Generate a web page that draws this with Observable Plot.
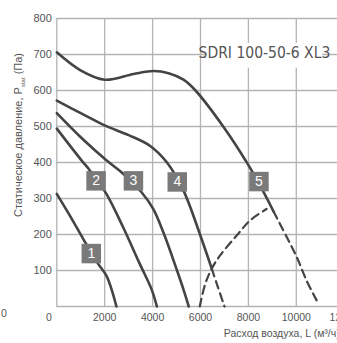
<!DOCTYPE html>
<html>
<head>
<meta charset="utf-8">
<script src="https://cdn.jsdelivr.net/npm/d3@7"></script>
<script src="https://cdn.jsdelivr.net/npm/@observablehq/plot@0.6"></script>
<style>
  html, body { margin: 0; padding: 0; background: #fff; overflow: hidden; }
  #chart { width: 337px; height: 343px; }
</style>
</head>
<body>
<div id="chart"></div>
<script>
// ---- data (airflow m³/h, static pressure Pa) ----
const curve1 = [[0,313],[540,253],[1100,188],[1720,119],[2070,86],[2280,49],[2490,0]];
const curve2 = [[0,494],[1030,406],[1380,378],[2070,313],[2770,220],[3460,119],[3950,49],[4180,0]];
const curve3 = [[0,537],[1000,470],[2070,406],[2770,369],[3530,318],[4020,272],[4460,204],[5020,100],[5300,45],[5510,0]];
const curve4 = [[0,572],[1000,537],[2000,503],[3000,476],[3900,446],[4600,400],[5290,322],[5990,198],[6470,105]];
const curve4Dash = [[6470,105],[6680,63],[7000,0]];
const curve5 = [[0,706],[990,656],[2000,630],[3210,646],[4050,654],[4670,648],[5290,630],[5790,600],[6970,498],[7970,396],[8640,317],[9050,264]];
const curve5Dash = [[9050,264],[9600,193],[10020,137],[10430,72],[10850,17]];
const limitDash = [[5970,0],[6200,63],[6470,105],[6820,142],[7510,197],[8070,239],[8760,271]];

const labelNames = ["1","2","3","4","5"];
const labelX = [1440,1640,3200,5030,8440];
const labelY = [147,349,349,346,347];

const xTicks = [2000,4000,6000,8000,10000,12000];
const yTicks = [100,200,300,400,500,600,700,800];
const xGrid = [0,2000,4000,6000,8000,10000];
const yGrid = [0,100,200,300,400,500,600,700,800];

const modelName = "SDRI 100-50-6 XL3";
const modelBox = [{x1: 6250, x2: 11100, y1: 662, y2: 731}];
const modelPos = [{x: 8670, y: 705}];
const xTitle = "Расход воздуха, L (м³/ч)";
const yTitle = "Статическое давление, P (Па)";

const toRows = (arr) => arr.map(([x, y]) => ({x, y}));
const ink = "#444";
const grid = "#b4b4b4";
const tickInk = "#555";

const chart = Plot.plot({
  width: 337,
  height: 343,
  marginTop: 18,
  marginBottom: 37,
  marginLeft: 56,
  marginRight: 0,
  x: {domain: [0, 12000], range: [56.3, 343.7], axis: null},
  y: {domain: [0, 800], range: [306, 18], axis: null},
  style: {background: "#fff", fontFamily: "'Liberation Sans', Arial, sans-serif", overflow: "visible"},
  marks: [
    Plot.ruleY(yGrid, {y: d => d, x1: 0, x2: 12500, stroke: grid, strokeWidth: 1.3}),
    Plot.ruleX(xGrid, {x: d => d, y1: 0, y2: 800, stroke: grid, strokeWidth: 1.3}),
    Plot.rect(modelBox, {x1: "x1", x2: "x2", y1: "y1", y2: "y2", fill: "#fff"}),
    Plot.text(modelPos, {x: "x", y: "y", text: () => modelName, fontSize: 15.5, fill: "#555",
      fontFamily: "'Liberation Sans Narrow', 'DejaVu Sans Condensed', sans-serif", lineAnchor: "middle"}),
    Plot.line(toRows(curve1), {x: "x", y: "y", curve: "catmull-rom", stroke: ink, strokeWidth: 2.6}),
    Plot.line(toRows(curve2), {x: "x", y: "y", curve: "catmull-rom", stroke: ink, strokeWidth: 2.6}),
    Plot.line(toRows(curve3), {x: "x", y: "y", curve: "catmull-rom", stroke: ink, strokeWidth: 2.6}),
    Plot.line(toRows(curve4), {x: "x", y: "y", curve: "catmull-rom", stroke: ink, strokeWidth: 2.6}),
    Plot.line(toRows(curve5), {x: "x", y: "y", curve: "catmull-rom", stroke: ink, strokeWidth: 2.6}),
    Plot.line(toRows(curve4Dash), {x: "x", y: "y", curve: "catmull-rom", stroke: ink, strokeWidth: 2.2, strokeDasharray: "8,5"}),
    Plot.line(toRows(curve5Dash), {x: "x", y: "y", curve: "catmull-rom", stroke: ink, strokeWidth: 2.2, strokeDasharray: "8,5"}),
    Plot.line(toRows(limitDash), {x: "x", y: "y", curve: "catmull-rom", stroke: ink, strokeWidth: 2.2, strokeDasharray: "8,5"}),
    Plot.dot(labelNames, {x: (d, i) => labelX[i], y: (d, i) => labelY[i], symbol: "square", r: 11, fill: "#7a7a7a", stroke: "none"}),
    Plot.text(labelNames, {x: (d, i) => labelX[i], y: (d, i) => labelY[i], text: d => d, fill: "#fff", fontSize: 14, lineAnchor: "middle"}),
    Plot.text(yTicks, {x: 0, y: d => d, text: d => String(d), textAnchor: "end", dx: -5, fontSize: 11, fill: tickInk, lineAnchor: "middle"}),
    Plot.text(xTicks, {x: d => d, y: 0, text: d => String(d), dy: 10.7, fontSize: 10.5, fill: tickInk, lineAnchor: "middle"}),
    Plot.text([0], {x: 0, y: 0, text: d => String(d), dx: -8, dy: 10.7, fontSize: 10.5, fill: tickInk, lineAnchor: "middle"}),
    Plot.text([0], {x: 0, y: 0, text: d => String(d), dx: -53, dy: 6.7, fontSize: 10.5, fill: tickInk, lineAnchor: "middle"}),
    Plot.text([xTitle], {x: 6973, y: 0, text: d => d, textAnchor: "start", dy: 27.5, fontSize: 10.5, fill: tickInk, lineAnchor: "middle"}),
    Plot.text([yTitle], {frameAnchor: "left", text: d => d, rotate: -90, dx: -38, dy: -27.5, fontSize: 11, fill: tickInk, lineAnchor: "middle", textAnchor: "middle"})
  ]
});

// subscript "stat" on the pressure symbol
d3.select(chart).selectAll("text").filter(function () { return this.textContent === yTitle; })
  .each(function () {
    const t = d3.select(this);
    t.text(null);
    t.append("tspan").text("Статическое давление, P");
    t.append("tspan").attr("font-size", 6).attr("dy", 2.5).text("stat");
    t.append("tspan").attr("dy", -2.5).text(" (Па)");
  });

document.getElementById("chart").appendChild(chart);
</script>
</body>
</html>
